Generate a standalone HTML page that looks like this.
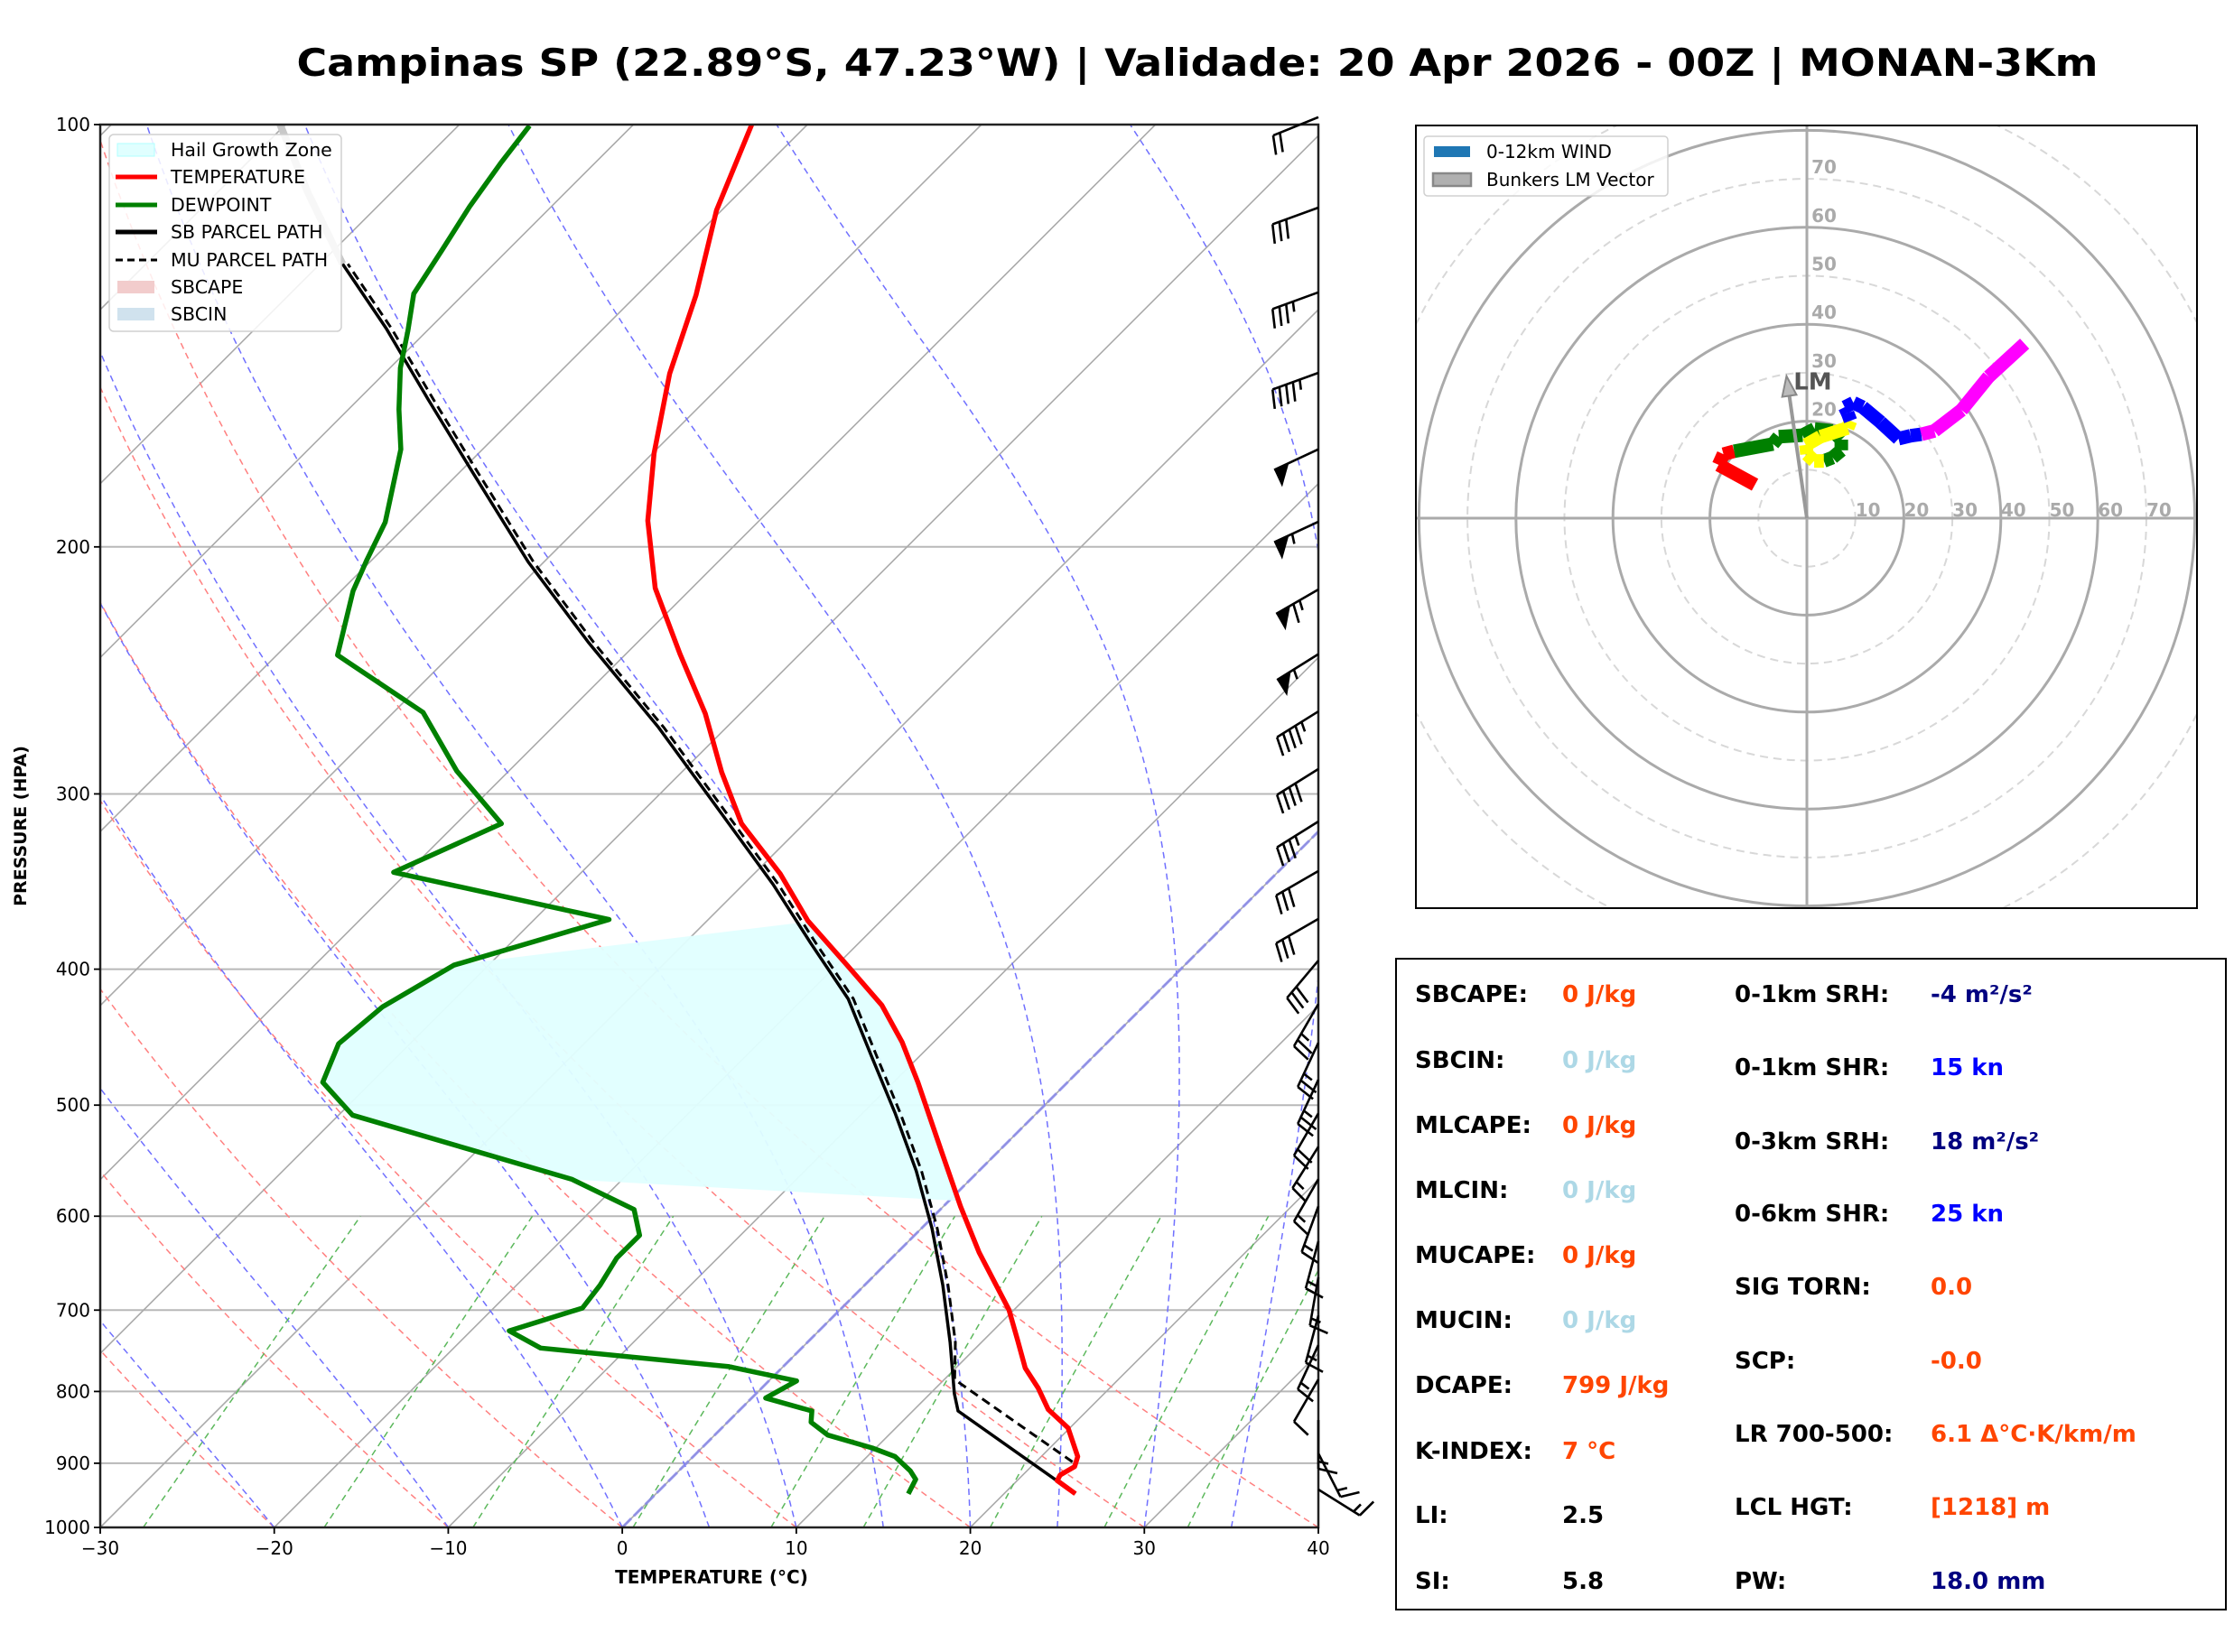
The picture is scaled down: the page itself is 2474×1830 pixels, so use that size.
<!DOCTYPE html>
<html><head><meta charset="utf-8"><style>
html,body{margin:0;padding:0;background:#fff;}
svg{display:block;font-family:"DejaVu Sans","Liberation Sans",sans-serif;}
</style></head><body>
<svg id="root" xmlns="http://www.w3.org/2000/svg" width="2474" height="1830" viewBox="0 0 2474 1830">
<text x="1326" y="84" font-size="42" font-weight="bold" text-anchor="middle" textLength="1995" lengthAdjust="spacingAndGlyphs">Campinas SP (22.89°S, 47.23°W) | Validade: 20 Apr 2026 - 00Z | MONAN-3Km</text>
<defs><clipPath id="skclip"><rect x="111" y="138" width="1349" height="1554"/></clipPath>
<clipPath id="hclip"><rect x="1568" y="139" width="865" height="867"/></clipPath></defs>
<g id="skew"></g>
<g id="hodo"></g>
<g id="stats"></g>
</svg>
<script>
// ---------- DATA ----------
const tempP=[100,115.1,132.3,150.5,171.6,191.6,214,238.4,263,289.5,315,342,369.5,397.4,424.4,451,481.6,538,590.6,636.8,699.5,734.5,769.9,795.7,824,849.4,890.2,905,917.7,926,946.2];
const tempT=[-73.2,-70.3,-66.6,-63.6,-59.9,-56.4,-52.1,-46.9,-42.0,-37.7,-33.6,-28.5,-24.2,-19.4,-15.1,-11.8,-8.6,-3.4,1.0,4.7,9.7,11.9,14.0,15.9,17.7,19.9,22.1,22.5,22.15,22.3,24.1];
const dewP=[100.2,106.6,114.4,122.7,132.0,140.3,149.1,159.6,170.4,192.1,204.2,215,238.9,262.4,288.9,315,341.2,368.7,397.4,425.4,452.1,481.6,508.3,564.8,593.4,619.1,642.7,671.9,697.6,724.2,745,768.1,786.3,808.7,826,841.4,859.3,877.7,890.2,911.4,924.2,946.2];
const dewT=[-85.9,-85.4,-84.7,-83.8,-82.9,-81.1,-79.4,-77.1,-74.7,-71.4,-70.3,-69.3,-66.5,-58.3,-53.0,-47.4,-50.8,-35.7,-42.0,-43.7,-44.1,-42.8,-39.2,-22.9,-17.6,-15.8,-15.8,-15.2,-14.9,-17.8,-15.0,-3.1,1.6,0.8,4.2,4.8,6.5,9.8,11.6,13.3,14.1,14.5];
const sbP=[946.2,826,803,738,672,612,557,507,462,420,383,348,310,269,234,205,176.5,157,139.7,125.7,111.8,100];
const sbT=[24.1,12.6,11.4,8.2,4.5,0.6,-3.6,-8.1,-12.7,-17.4,-22.8,-28.3,-35.3,-43.9,-52.8,-60.9,-69.4,-76.0,-82.5,-88.7,-94.8,-100.3];
const muP=[898,784.5,738,672,612,557,507,462,420,383,348,310,269,234,205,176.5,157,139.7,125.7];
const muT=[22.1,10.6,8.5,4.8,0.9,-3.3,-7.8,-12.4,-17.1,-22.5,-28.0,-35.0,-43.6,-52.5,-60.6,-69.1,-75.7,-82.2,-88.4];
const hgzTop=370, hgzBottom=585, hgzDewTop=397, hgzDewBottom=565;
const barbP=[98.8,114.6,131.7,150.3,170.4,191.9,214.5,238.5,262,288,313.9,340.5,368.3,394.4,423.5,451.3,479.5,506.8,535.3,564.6,590.2,625.2,663.5,706.3,741.3,784.3,838.4,885.6,939.7];
const barbDir=[248,250,250,250,245,245,240,238,238,238,238,240,240,220,210,205,205,210,212,210,200,195,190,195,205,210,180,153,122];
const barbSpd=[20,30,35,45,50,55,65,55,45,40,35,30,30,30,25,25,25,20,15,15,15,15,15,15,15,10,15,15,15];
const pTicks=[100,200,300,400,500,600,700,800,900,1000];
const tTicks=[-30,-20,-10,0,10,20,30,40];
const dryT0=[-30,-20,-10,0,10,20,30,40];
const moistT0=[-20,-10,0,5,10,15,20,25,30,35];
const mixW=[0.0004,0.001,0.002,0.004,0.007,0.01,0.016,0.024,0.032];
const hodoU=[-10.7,-18.2,-17.2,-15.0,-7.0,-5.8,-0.9,1.6,5.3,7.1,7.1,5.3,3.5,1.5,0.0,-0.2,2.8,8.4,9.0,8.4,7.8,9.6,11.5,15.2,18.9,21.4,23.6,26.3,31.9,37.5,44.9];
const hodoV=[6.9,11.0,13.2,13.8,15.3,16.8,17.1,18.4,18.0,16.2,14.0,12.5,11.8,11.8,13.2,15.1,16.8,18.6,20.1,21.7,22.9,23.8,22.9,19.8,16.4,17.0,17.3,18.0,22.3,29.2,36.0];
const hodoLayer=['red','red','red','red','green','green','green','green','green','green','green','green','green','yellow','yellow','yellow','yellow','yellow','yellow','blue','blue','blue','blue','blue','blue','blue','blue','magenta','magenta','magenta','magenta'];
const lmU=-4.2, lmV=29.3;
const ringLabels=[10,20,30,40,50,60,70];
const statsLeft=[["SBCAPE:","0 J/kg","#ff4500"],["SBCIN:","0 J/kg","#add8e6"],["MLCAPE:","0 J/kg","#ff4500"],["MLCIN:","0 J/kg","#add8e6"],["MUCAPE:","0 J/kg","#ff4500"],["MUCIN:","0 J/kg","#add8e6"],["DCAPE:","799 J/kg","#ff4500"],["K-INDEX:","7 °C","#ff4500"],["LI:","2.5","#000"],["SI:","5.8","#000"]];
const statsRight=[["0-1km SRH:","-4 m²/s²","#000080"],["0-1km SHR:","15 kn","#0000ff"],["0-3km SRH:","18 m²/s²","#000080"],["0-6km SHR:","25 kn","#0000ff"],["SIG TORN:","0.0","#ff4500"],["SCP:","-0.0","#ff4500"],["LR 700-500:","6.1 Δ°C·K/km/m","#ff4500"],["LCL HGT:","[1218] m","#ff4500"],["PW:","18.0 mm","#000080"]];

// ---------- HELPERS ----------
const NS="http://www.w3.org/2000/svg";
function mk(parent,tag,attrs){const e=document.createElementNS(NS,tag);for(const k in attrs)e.setAttribute(k,attrs[k]);parent.appendChild(e);return e;}
const X0=111,X1=1460,YB=1692,YT=138,K=(X1-X0)/70,DEC=YB-YT;
function yP(p){return YB-DEC*Math.log10(1000/p);}
function xT(T,p){return X0+(T+30)*K+(YB-yP(p));}
function path(Ts,Ps){return Ts.map((t,i)=>(i?'L':'M')+xT(t,Ps[i]).toFixed(1)+','+yP(Ps[i]).toFixed(1)).join('');}
function interp(P,T,p){for(let i=0;i<P.length-1;i++){const a=P[i],b=P[i+1];if((p>=a&&p<=b)||(p<=a&&p>=b)){const f=(p-a)/(b-a);return T[i]+f*(T[i+1]-T[i]);}}return null;}

// ---------- SKEW-T ----------
const sk=document.getElementById('skew');
const g=mk(sk,'g',{'clip-path':'url(#skclip)'});


pTicks.slice(1,-1).forEach(p=>{const l=mk(g,'line',{x1:X0,x2:X1,y1:yP(p),y2:yP(p),stroke:'#b8b8b8','stroke-width':2});

});
for(let T=-150;T<=40;T+=10){const l=mk(g,'line',{x1:xT(T,1000),y1:YB,x2:xT(T,100),y2:YT,stroke:'#aaa','stroke-width':1.6});

}
dryT0.forEach(t0=>{const th=t0+273.15;let d='';for(let p=1000;p>=100;p-=10){const T=th*Math.pow(p/1000,0.2857)-273.15;d+=(p==1000?'M':'L')+xT(T,p).toFixed(1)+','+yP(p).toFixed(1);}
const e=mk(g,'path',{d:d,fill:'none',stroke:'#ff8080','stroke-width':1.5,'stroke-dasharray':'7,5'});

});
function es(Tk){return 6.112*Math.exp(17.67*(Tk-273.15)/(Tk-29.65));}
moistT0.forEach(t0=>{let T=t0+273.15,d='M'+xT(t0,1000).toFixed(1)+','+YB;for(let p=1000;p>100;p-=2){const e=es(T),rs=0.622*e/(p-e);const dTdp=(287*T+2.5e6*rs)/(p*(1005+2.5e6*2.5e6*rs*0.622/(287*T*T)));T-=dTdp*2;const pn=p-2;d+='L'+xT(T-273.15,pn).toFixed(1)+','+yP(pn).toFixed(1);}
const e=mk(g,'path',{d:d,fill:'none',stroke:'#7070ff','stroke-width':1.5,'stroke-dasharray':'7,5'});

});
mixW.forEach(w=>{let d='';for(let p=1000;p>=600;p-=10){const e=p*w/(0.622+w),l=Math.log(e/6.112),Td=243.5*l/(17.67-l);d+=(p==1000?'M':'L')+xT(Td,p).toFixed(1)+','+yP(p).toFixed(1);}
const e=mk(g,'path',{d:d,fill:'none',stroke:'#5cb85c','stroke-width':1.5,'stroke-dasharray':'7,5'});

});
const zi=mk(g,'line',{x1:xT(0,1000),y1:YB,x2:xT(0,100),y2:YT,stroke:'#8888ee','stroke-width':3,'stroke-dasharray':'14,4','opacity':0.8});


(function(){let pts=[];for(let p=hgzTop;p<=hgzBottom;p+=5){pts.push([xT(interp(tempP,tempT,p),p),yP(p)]);}
for(let p=hgzDewBottom;p>=hgzDewTop;p-=3){pts.push([xT(interp(dewP,dewT,p),p),yP(p)]);}
const e=mk(g,'polygon',{points:pts.map(q=>q[0].toFixed(1)+','+q[1].toFixed(1)).join(' '),fill:'#e0ffff',stroke:'none',opacity:0.95});

})();
const mu=mk(g,'path',{d:path(muT,muP),fill:'none',stroke:'#000','stroke-width':3,'stroke-dasharray':'10,6'});


const sb=mk(g,'path',{d:path(sbT,sbP),fill:'none',stroke:'#000','stroke-width':3.5});


const sbTop=mk(g,'path',{d:path(sbT.slice(19),sbP.slice(19)),fill:'none',stroke:'#c8c8c8','stroke-width':8});


const td=mk(g,'path',{d:path(dewT,dewP),fill:'none',stroke:'#008000','stroke-width':5.5,'stroke-linejoin':'round'});


const tt=mk(g,'path',{d:path(tempT,tempP),fill:'none',stroke:'#ff0000','stroke-width':5.5,'stroke-linejoin':'round'});


const fr=mk(sk,'rect',{x:X0,y:YT,width:X1-X0,height:YB-YT,fill:'none',stroke:'#222','stroke-width':2.5});


pTicks.forEach(p=>{const y=yP(p);mk(sk,'line',{x1:104,x2:X0,y1:y,y2:y,stroke:'#000','stroke-width':1.8});
const t=mk(sk,'text',{x:100,y:y+7,'font-size':20,'text-anchor':'end'});t.textContent=p;

});
tTicks.forEach(T=>{const x=xT(T,1000);mk(sk,'line',{x1:x,x2:x,y1:YB,y2:YB+7,stroke:'#000','stroke-width':1.8});
const t=mk(sk,'text',{x:x,y:YB+30,'font-size':20,'text-anchor':'middle'});t.textContent=(T<0?'\u2212'+(-T):T);

});
const xl=mk(sk,'text',{x:788,y:1754,'font-size':20,'font-weight':'bold','text-anchor':'middle'});xl.textContent='TEMPERATURE (°C)';


const yl=mk(sk,'text',{x:0,y:0,'font-size':19,'font-weight':'bold','text-anchor':'middle',transform:'translate(29,915) rotate(-90)'});yl.textContent='PRESSURE (HPA)';


barbP.forEach((p,i)=>{const y=yP(p),x=X1,L=54,d=barbDir[i]*Math.PI/180;const sx=Math.sin(d),sy=-Math.cos(d);const tx=sy,ty=-sx;
const bg=mk(sk,'g',{stroke:'#000','stroke-width':2.6,fill:'#000','stroke-linecap':'butt'});


const ex=x+sx*L,ey=y+sy*L;mk(bg,'line',{x1:x,y1:y,x2:ex,y2:ey});
let s=barbSpd[i],pos=0;const sp=8;
while(s>=50){const a=[ex-sx*pos,ey-sy*pos],b=[ex-sx*(pos+18),ey-sy*(pos+18)],c=[ex-sx*(pos)+tx*21,ey-sy*pos+ty*21];mk(bg,'polygon',{points:a.join(',')+' '+b.join(',')+' '+c.join(','),stroke:'none'});pos+=20;s-=50;}
if(pos>0)pos+=2;
while(s>=10){const a=[ex-sx*pos,ey-sy*pos];mk(bg,'line',{x1:a[0],y1:a[1],x2:a[0]+tx*21+sx*5,y2:a[1]+ty*21+sy*5});pos+=sp;s-=10;}
if(s>=5){if(pos==0)pos=sp;const a=[ex-sx*pos,ey-sy*pos];mk(bg,'line',{x1:a[0],y1:a[1],x2:a[0]+tx*11+sx*2.5,y2:a[1]+ty*11+sy*2.5});}
});
(function(){const lg=mk(sk,'g',{});


mk(lg,'rect',{x:121,y:149,width:257,height:218,rx:5,fill:'#fff','fill-opacity':0.85,stroke:'#d0d0d0','stroke-width':1.5});
const items=[['Hail Growth Zone','patch','#e0ffff','#b0ffff'],['TEMPERATURE','line','#ff0000'],['DEWPOINT','line','#008000'],['SB PARCEL PATH','line','#000'],['MU PARCEL PATH','dash','#000'],['SBCAPE','patch','#f2cccc','none'],['SBCIN','patch','#d0e2ee','none']];
const ys=[166,196,227,257,288,318,348];
items.forEach((it,i)=>{const y=ys[i];
const e=mk(lg,'g',{});


if(it[1]=='patch')mk(e,'rect',{x:130,y:y-7,width:41,height:14,fill:it[2],stroke:it[3]});
else mk(e,'line',{x1:128,x2:174,y1:y,y2:y,stroke:it[2],'stroke-width':it[1]=='dash'?3:5,'stroke-dasharray':it[1]=='dash'?'8,5':'none'});
const t=mk(e,'text',{x:189,y:y+7,'font-size':20.5});t.textContent=it[0];});})();

// ---------- HODOGRAPH ----------
const ho=document.getElementById('hodo');
const CX=2001,CY=574,S=5.37;
const hg=mk(ho,'g',{'clip-path':'url(#hclip)'});


for(let r=10;r<=90;r+=10){const solid=r%20==0;const c=mk(hg,'circle',{cx:CX,cy:CY,r:r*S,fill:'none',stroke:solid?'#aaa':'#d8d8d8','stroke-width':solid?3:2,'stroke-dasharray':solid?'none':'9,6'});

}
mk(hg,'line',{x1:1568,x2:2433,y1:CY,y2:CY,stroke:'#aaa','stroke-width':3});
mk(hg,'line',{x1:CX,x2:CX,y1:139,y2:1006,stroke:'#aaa','stroke-width':3});
ringLabels.forEach(r=>{const a=mk(hg,'text',{x:CX+r*S+14,y:CY-2,'font-size':20,'font-weight':'bold',fill:'#aaa','text-anchor':'middle'});a.textContent=r;


if(r>=20){const b=mk(hg,'text',{x:CX+19,y:CY-r*S-6,'font-size':20,'font-weight':'bold',fill:'#aaa','text-anchor':'middle'});b.textContent=r;

}});
for(let i=0;i<hodoU.length-1;i++){const l=mk(hg,'line',{x1:CX+hodoU[i]*S,y1:CY-hodoV[i]*S,x2:CX+hodoU[i+1]*S,y2:CY-hodoV[i+1]*S,stroke:hodoLayer[i+1],'stroke-width':15,'stroke-linecap':'butt'});

}
(function(){const ex=CX+lmU*S,ey=CY-lmV*S;const a=mk(hg,'g',{});


const L=Math.hypot(ex-CX,ey-CY),ux=(ex-CX)/L,uy=(ey-CY)/L;
mk(a,'line',{x1:CX,y1:CY,x2:ex-ux*12,y2:ey-uy*12,stroke:'#999','stroke-width':4});
mk(a,'polygon',{points:`${ex},${ey} ${ex-ux*22-uy*8},${ey-uy*22+ux*8} ${ex-ux*22+uy*8},${ey-uy*22-ux*8}`,fill:'#bbb',stroke:'#888','stroke-width':2});
const t=mk(hg,'text',{x:ex+29,y:ey+15,'font-size':26,'font-weight':'bold',fill:'#555','text-anchor':'middle'});t.textContent='LM';

})();
const hb=mk(ho,'rect',{x:1568,y:139,width:865,height:867,fill:'none',stroke:'#000','stroke-width':2});


(function(){const lg=mk(ho,'g',{});


mk(lg,'rect',{x:1577,y:151,width:270,height:66,rx:4,fill:'#fff','fill-opacity':0.85,stroke:'#d0d0d0','stroke-width':1.5});
mk(lg,'rect',{x:1588,y:162,width:40,height:12,fill:'#1f77b4'});
mk(lg,'rect',{x:1587,y:192,width:42,height:14,fill:'#b0b0b0',stroke:'#888','stroke-width':2.5});
const t1=mk(lg,'text',{x:1646,y:175,'font-size':20});t1.textContent='0-12km WIND';


const t2=mk(lg,'text',{x:1646,y:206,'font-size':20});t2.textContent='Bunkers LM Vector';

})();

// ---------- STATS ----------
const st=document.getElementById('stats');
const sbx=mk(st,'rect',{x:1546,y:1062,width:919,height:721,fill:'#fff',stroke:'#000','stroke-width':2});


const leftY=[1106,1179,1251,1323,1395,1467,1539,1612,1683,1756];
const rightY=[1106,1187,1269,1349,1430,1512,1593,1674,1756];
function stat(lbl,val,col,x1,x2,y){const a=mk(st,'text',{x:x1,y:y+4,'font-size':26,'font-weight':'bold',fill:'#000'});a.textContent=lbl;


const b=mk(st,'text',{x:x2,y:y+4,'font-size':26,'font-weight':'bold',fill:col});b.textContent=val;

}
statsLeft.forEach((s,i)=>stat(s[0],s[1],s[2],1567,1730,leftY[i]));
statsRight.forEach((s,i)=>stat(s[0],s[1],s[2],1921,2138,rightY[i]));
</script>
</body></html>
